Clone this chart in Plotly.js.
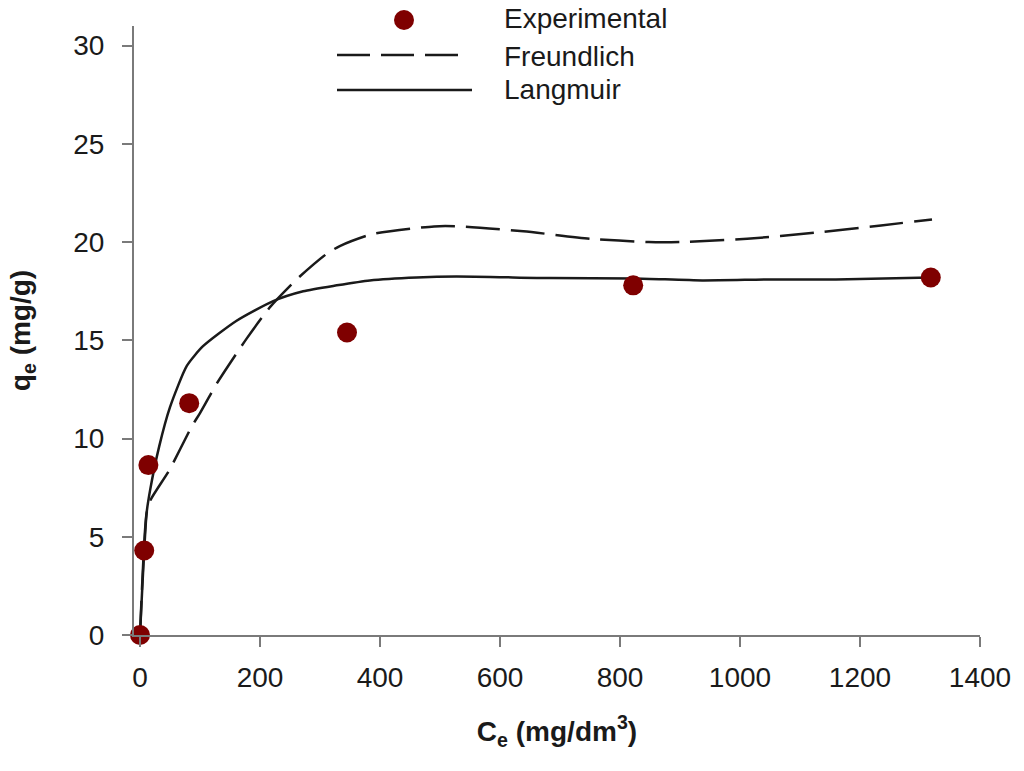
<!DOCTYPE html>
<html>
<head>
<meta charset="utf-8">
<script src="https://cdn.plot.ly/plotly-3.0.1.min.js"></script>
<style>
  html, body { margin: 0; padding: 0; background: #fff; }
  #isotherm { width: 1024px; height: 771px; }
</style>
</head>
<body>
<div id="isotherm"></div>
<script>
/* Adsorption isotherm data */
var ceExp = [0, 7, 14, 82, 345, 822, 1318];        // Ce (mg/dm3)
var qeExp = [0, 4.3, 8.65, 11.8, 15.4, 17.8, 18.2]; // qe (mg/g)

// Langmuir curve
var ceLang = [0, 11, 17, 32, 50, 78, 105, 161, 222, 272, 328, 383, 461, 527, 683, 825, 937, 1050, 1160, 1318];
var qeLang = [0, 6.2, 7.4, 9.6, 11.6, 13.7, 14.7, 16.0, 17.0, 17.5, 17.8, 18.05, 18.2, 18.25, 18.17, 18.15, 18.05, 18.1, 18.1, 18.2];

// Freundlich curve
var ceFreu = [0, 11, 18, 49, 86, 100, 128, 178, 217, 261, 311, 333, 386, 490, 535, 639, 751, 848, 900, 1012, 1123, 1235, 1320];
var qeFreu = [0, 6.2, 6.9, 8.4, 10.6, 11.3, 12.8, 15.1, 16.7, 18.1, 19.4, 19.8, 20.4, 20.8, 20.8, 20.55, 20.17, 20.0, 20.0, 20.17, 20.47, 20.85, 21.15];

var xTicks = [0, 200, 400, 600, 800, 1000, 1200, 1400];
var yTicks = [0, 5, 10, 15, 20, 25, 30];

var legendNames = ['Experimental', 'Freundlich', 'Langmuir'];

var ink = '#1a1a1a';
var dotColor = '#7f0000';
var axisGrey = '#7a7a7a';

var traceFreu = {
    x: ceFreu,
    y: qeFreu,
    mode: 'lines',
    type: 'scatter',
    name: legendNames[1],
    line: {color: ink, width: 2.5, dash: '34px,11px', shape: 'spline', smoothing: 0.6}
};
var traceLang = {
    x: ceLang,
    y: qeLang,
    mode: 'lines',
    type: 'scatter',
    name: legendNames[2],
    line: {color: ink, width: 2.5, shape: 'spline', smoothing: 0.6}
};
var traceExp = {
    x: ceExp,
    y: qeExp,
    mode: 'markers',
    type: 'scatter',
    name: legendNames[0],
    cliponaxis: false,
    marker: {color: dotColor, size: 20, line: {width: 0}}
};

// hand made legend (long line samples like the original)
function px(x) { return (x - 134) / 846; }
function py(y) { return (635 - y) / 609; }

var shapes = [
    {type: 'circle', xref: 'paper', yref: 'paper', x0: px(394), x1: px(414), y0: py(30), y1: py(10),
     fillcolor: dotColor, line: {width: 0}},
    {type: 'line', xref: 'paper', yref: 'paper', x0: px(337), x1: px(458), y0: py(55), y1: py(55),
     line: {color: ink, width: 2.5, dash: '33px,11px'}},
    {type: 'line', xref: 'paper', yref: 'paper', x0: px(337), x1: px(472), y0: py(90), y1: py(90),
     line: {color: ink, width: 2.5}}
];
var legendY = [19, 56, 89];
var annotations = legendNames.map(function (n, i) {
    return {text: n, xref: 'paper', yref: 'paper', x: px(502), y: py(legendY[i]),
            xanchor: 'left', yanchor: 'middle', showarrow: false,
            font: {size: 28, color: ink}};
});

var axisCommon = {
    showgrid: false,
    zeroline: false,
    showline: true,
    linecolor: axisGrey,
    linewidth: 2,
    ticks: 'outside',
    ticklen: 10,
    tickwidth: 2,
    tickcolor: axisGrey,
    tickfont: {size: 28, color: ink}
};

var layout = {
    width: 1024,
    height: 771,
    margin: {t: 26, r: 44, l: 134, b: 136},
    paper_bgcolor: '#fff',
    plot_bgcolor: '#fff',
    font: {family: '"Liberation Sans", Arial, sans-serif', color: ink},
    showlegend: false,
    xaxis: Object.assign({}, axisCommon, {
        range: [-10, 1400],
        tickvals: xTicks,
        ticklabelstandoff: 6,
        title: {text: '<b>C<sub>e</sub> (mg/dm<sup>3</sup>)</b>', font: {size: 28, color: ink}, standoff: 30}
    }),
    yaxis: Object.assign({}, axisCommon, {
        range: [0, 31],
        tickvals: yTicks,
        ticklabelstandoff: 12,
        title: {text: '<b>q<sub>e</sub> (mg/g)</b>', font: {size: 28, color: ink}, standoff: 34}
    }),
    shapes: shapes,
    annotations: annotations
};

Plotly.newPlot('isotherm', [traceFreu, traceLang, traceExp], layout, {displayModeBar: false});
</script>
</body>
</html>
